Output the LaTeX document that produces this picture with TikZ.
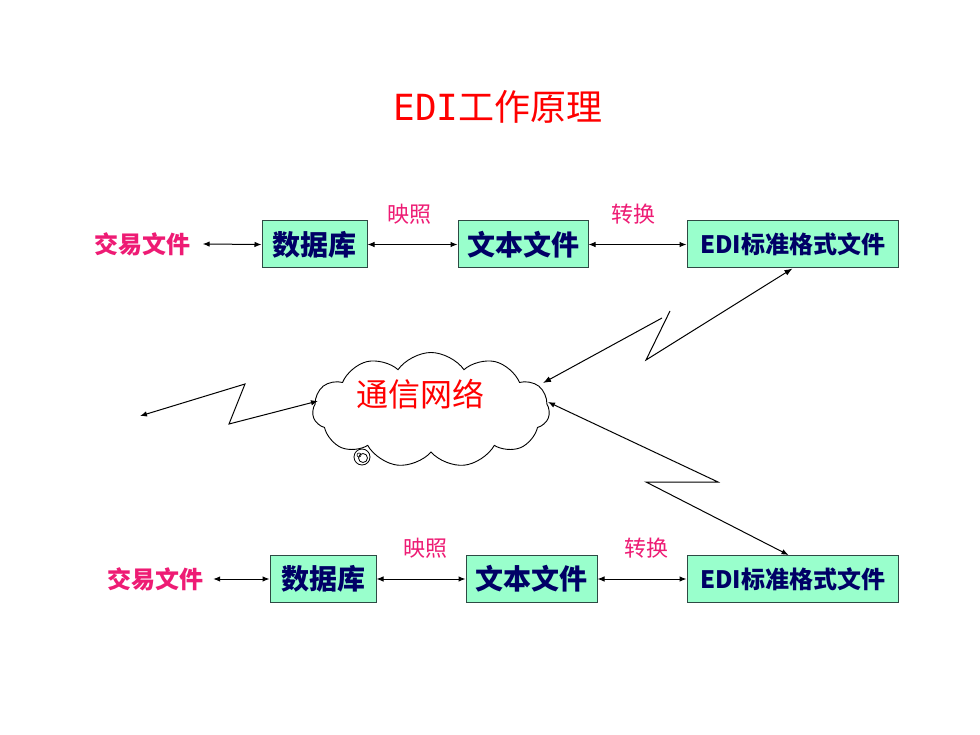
\documentclass[tikz,border=0pt]{standalone}
\usepackage{fontspec}
\setmainfont{Noto Sans CJK SC}
\newfontfamily\edimono{DejaVu Sans Mono}
\usetikzlibrary{arrows.meta,shapes.symbols}
\definecolor{boxfill}{HTML}{99FFCC}
\definecolor{boxtext}{HTML}{000066}
\definecolor{boxline}{HTML}{2E4A44}
\definecolor{mag}{HTML}{EE1B74}
\definecolor{titlered}{HTML}{FF0000}
\tikzset{
  stepbox/.style={draw=boxline, line width=1pt, fill=boxfill, text=boxtext,
    font=\bfseries\fontsize{28pt}{30pt}\selectfont, minimum height=47pt, inner sep=0pt},
  edibox/.style={stepbox, minimum width=211pt, font=\bfseries\fontsize{24pt}{26pt}\selectfont},
  filelab/.style={text=mag, font=\bfseries\fontsize{24pt}{26pt}\selectfont, inner sep=0pt},
  steplab/.style={text=mag, font=\fontsize{22pt}{24pt}\selectfont, inner sep=0pt},
  dbl/.style={{Latex[length=7pt,width=5.5pt]}-{Latex[length=7pt,width=5.5pt]}, line width=1pt},
  tipstart/.style={{Latex[length=8pt,width=6pt]}-, line width=1pt},
  tipend/.style={-{Latex[length=8pt,width=6pt]}, line width=1pt},
}
\begin{document}
\begin{tikzpicture}[x=1pt,y=-1pt]
\path[use as bounding box, fill=white] (0,0) rectangle (980,735);

% title
\node[text=titlered, font=\fontsize{36pt}{38pt}\selectfont, inner sep=0pt] (title) at (498,107) {{\edimono EDI}工作原理};

% top row
\node[filelab] (f1) at (142.5,244) {交易文件};
\node[stepbox, minimum width=105pt] (db1) at (314.5,244.5) {数据库};
\node[stepbox, minimum width=130pt] (tx1) at (523,244.5) {文本文件};
\node[edibox] (edi1) at (792.5,244.5) {EDI标准格式文件};
\node[steplab] (m1) at (409,214) {映照};
\node[steplab] (c1) at (633,214) {转换};
\draw[dbl] ([xshift=12pt]f1.east) -- (db1.west);
\draw[dbl] (db1.east) -- (tx1.west);
\draw[dbl] (tx1.east) -- (edi1.west);

% bottom row
\node[filelab] (f2) at (155,579) {交易文件};
\node[stepbox, minimum width=106pt] (db2) at (323,579) {数据库};
\node[stepbox, minimum width=131pt] (tx2) at (531.5,579) {文本文件};
\node[edibox] (edi2) at (792.5,579) {EDI标准格式文件};
\node[steplab] (m2) at (425,548) {映照};
\node[steplab] (c2) at (646,548) {转换};
\draw[dbl] ([xshift=10pt]f2.east) -- (db2.west);
\draw[dbl] (db2.east) -- (tx2.west);
\draw[dbl] (tx2.east) -- (edi2.west);

% cloud
\node[cloud, draw, line width=0.9pt, cloud puffs=11, cloud puff arc=110, aspect=2.06,
      minimum width=237pt, minimum height=115pt, inner sep=0pt] (net) at (431,410) {};
\node[text=titlered, font=\fontsize{32pt}{34pt}\selectfont, inner sep=0pt] (nettext) at (420,394) {通信网络};
\node[circle, draw, line width=0.8pt, minimum size=16pt, inner sep=0pt] (b1) at (362,457) {};
\node[circle, draw, line width=0.8pt, minimum size=9pt, inner sep=0pt] (b2) at (363,458) {};
\node[circle, draw, line width=0.6pt, minimum size=4pt, inner sep=0pt] (b3) at (359,455) {};

% lightning connectors
\coordinate (L0) at (140,416);
\coordinate (L1) at (245,384);
\coordinate (L2) at (229,424);
\coordinate (Lc) at (318,401);
\draw[dbl] (L0) -- (L1) -- (L2) -- (Lc);

\coordinate (Uc) at (543,383);
\coordinate (U1) at (662,318);
\coordinate (U2) at (670,311);
\coordinate (U3) at (646,360);
\draw[tipstart] (Uc) -- (U1);
\draw[tipend] (U2) -- (U3) -- (edi1.south);

\coordinate (Dc) at (548,402);
\coordinate (D1) at (718,482);
\coordinate (D2) at (646,482);
\draw[dbl] (Dc) -- (D1) -- (D2) -- ([xshift=-4pt]edi2.north);
\end{tikzpicture}
\end{document}
